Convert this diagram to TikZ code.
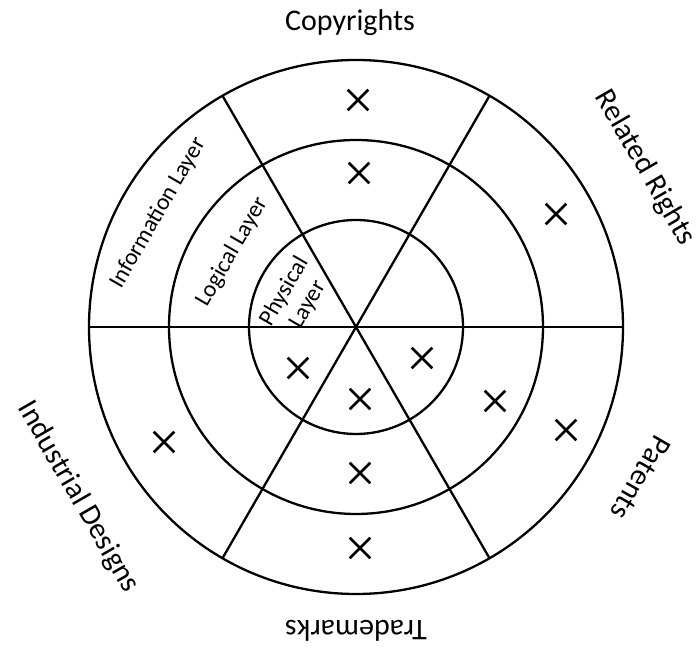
\documentclass[tikz,border=0pt]{standalone}
\usepackage{fontspec}
\setmainfont{Carlito}
\usetikzlibrary{shapes.misc}
\begin{document}
\begin{tikzpicture}[x=1pt,y=1pt,
  ring/.style={line width=2.3pt},
  spoke/.style={line width=2.3pt},
  outerlabel/.style={inner sep=0pt, font=\fontsize{30}{36}\selectfont},
  innerlabel/.style={inner sep=0pt, font=\fontsize{23.5}{26}\selectfont, align=center},
  xmark/.style={cross out, draw, line width=2.6pt, minimum size=18pt, inner sep=0pt}]
\useasboundingbox (0,0) rectangle (697,660);
\coordinate (c) at (356,333);
% rings
\draw[ring] (c) circle[radius=267pt];
\draw[ring] (c) circle[radius=187pt];
\draw[ring] (c) circle[radius=107pt];
% spokes
\coordinate (s0) at ([shift={(0:267pt)}]c);
\coordinate (s180) at ([shift={(180:267pt)}]c);
\coordinate (s60) at ([shift={(60:267pt)}]c);
\coordinate (s240) at ([shift={(240:267pt)}]c);
\coordinate (s120) at ([shift={(120:267pt)}]c);
\coordinate (s300) at ([shift={(300:267pt)}]c);
\draw[spoke, line width=2.8pt] (s180) -- (s0);
\draw[spoke] (s240) -- (s60);
\draw[spoke] (s300) -- (s120);
% outer labels
\node[outerlabel] (copy) at (350,637) {Copyrights};
\node[outerlabel, rotate=-60] (rel) at (645,492) {Related Rights};
\node[outerlabel, rotate=-120] (pat) at (641,182) {Patents};
\node[outerlabel, rotate=180] (tm) at (356,29) {Trademarks};
\node[outerlabel, rotate=-60] (ind) at (78,163) {Industrial Designs};
% layer labels
\node[innerlabel, rotate=60] (info) at (158,447) {Information Layer};
\node[innerlabel, rotate=60] (logi) at (232,408) {Logical Layer};
\node[innerlabel, rotate=60] (phys) at (296,362) {Physical\\[1pt]Layer};
% crosses
\node[xmark] (x1) at (358,560) {};
\node[xmark] (x2) at (359,487) {};
\node[xmark] (x3) at (556,446) {};
\node[xmark] (x4) at (422,302) {};
\node[xmark] (x5) at (495,259) {};
\node[xmark] (x6) at (566,230) {};
\node[xmark] (x7) at (360,261) {};
\node[xmark] (x8) at (360,187) {};
\node[xmark] (x9) at (360,112) {};
\node[xmark] (x10) at (298,292) {};
\node[xmark] (x11) at (164,218) {};
\end{tikzpicture}
\end{document}
